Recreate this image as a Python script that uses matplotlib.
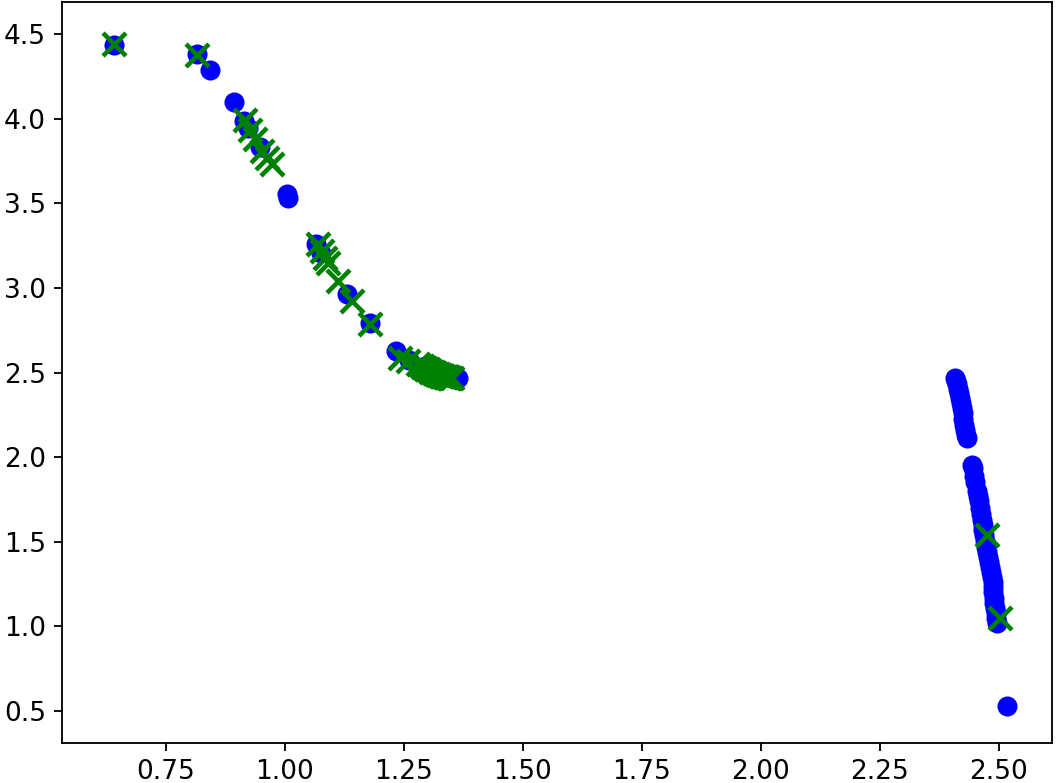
import matplotlib
matplotlib.use("Agg")
import matplotlib.pyplot as plt

# blue circles (population)
blue_x = [0.642, 0.816, 0.843, 0.894, 0.915, 0.923, 0.948, 1.005, 1.007, 1.066, 1.076,
          1.131, 1.179, 1.234, 1.262, 1.295, 1.312, 1.327, 1.340, 1.352, 1.364,
          2.408, 2.410, 2.412, 2.414, 2.416, 2.418, 2.420, 2.422, 2.424, 2.426, 2.428,
          2.430, 2.432, 2.433,
          2.444, 2.446, 2.448, 2.451, 2.454, 2.456, 2.458, 2.460, 2.462, 2.464, 2.466,
          2.468, 2.470, 2.472, 2.474, 2.476, 2.478, 2.480, 2.482, 2.484, 2.486, 2.487,
          2.488, 2.489, 2.490, 2.491, 2.492, 2.494, 2.495, 2.497,
          2.517]
blue_y = [4.438, 4.385, 4.290, 4.096, 3.989, 3.948, 3.830, 3.553, 3.529, 3.258, 3.205,
          2.963, 2.792, 2.627, 2.575, 2.537, 2.522, 2.508, 2.497, 2.488, 2.470,
          2.465, 2.450, 2.430, 2.405, 2.380, 2.350, 2.320, 2.290, 2.260, 2.225, 2.190,
          2.160, 2.130, 2.110,
          1.955, 1.935, 1.890, 1.850, 1.800, 1.770, 1.740, 1.700, 1.665, 1.630, 1.600,
          1.570, 1.540, 1.505, 1.470, 1.440, 1.410, 1.380, 1.350, 1.320, 1.290, 1.260,
          1.230, 1.200, 1.170, 1.140, 1.110, 1.080, 1.050, 1.020,
          0.529]

# green crosses (selected)
green_x = [0.642, 0.816, 0.917, 0.927, 0.938, 0.952, 0.963, 0.974,
           1.070, 1.078, 1.085, 1.091, 1.112, 1.142, 1.179, 1.243, 1.259, 1.280,
           1.288, 1.291, 1.294, 1.297, 1.300, 1.303, 1.306, 1.308, 1.311, 1.313,
           1.316, 1.318, 1.321, 1.323, 1.326, 1.328, 1.331, 1.333, 1.336, 1.338,
           1.341, 1.343, 1.346, 1.348, 1.352,
           2.476, 2.503]
green_y = [4.444, 4.379, 3.995, 3.936, 3.883, 3.812, 3.765, 3.730,
           3.258, 3.217, 3.176, 3.146, 3.040, 2.922, 2.786, 2.584, 2.567, 2.549,
           2.540, 2.534, 2.528, 2.523, 2.518, 2.513, 2.509, 2.505, 2.501, 2.498,
           2.495, 2.492, 2.489, 2.487, 2.485, 2.482, 2.480, 2.478, 2.476, 2.474,
           2.472, 2.471, 2.470, 2.469, 2.468,
           1.541, 1.046]

dpi = 165
fig = plt.figure(figsize=(1058 / dpi, 783 / dpi), dpi=dpi)
ax = fig.add_axes([62 / 1058, 1 - 743 / 783, 990 / 1058, 741 / 783])

ax.scatter(blue_x, blue_y, s=60, c="b", marker="o", edgecolors="b", linewidths=1)
ax.scatter(green_x, green_y, s=100, c="g", marker="x", linewidths=2)

ax.set_xlim(0.532, 2.612)
ax.set_ylim(0.31, 4.69)
ax.set_xticks([0.75, 1.0, 1.25, 1.5, 1.75, 2.0, 2.25, 2.5])
ax.set_yticks([0.5, 1.0, 1.5, 2.0, 2.5, 3.0, 3.5, 4.0, 4.5])
ax.tick_params(labelsize=11.5)

fig.savefig("out.png", dpi=dpi)
